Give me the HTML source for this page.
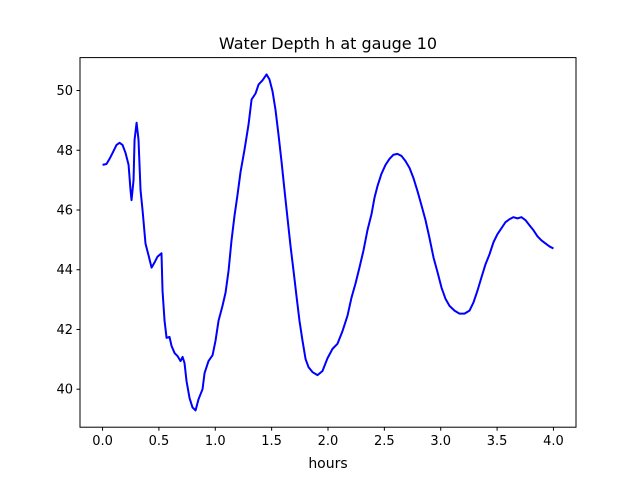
<!DOCTYPE html>
<html><head><meta charset="utf-8"><style>
html,body{margin:0;padding:0;background:#fff;}
svg text{font-family:"DejaVu Sans","Liberation Sans",sans-serif;}
</style></head><body>
<svg id="chart" width="640" height="480" xmlns="http://www.w3.org/2000/svg">
<rect width="640" height="480" fill="#fff"/>
<text x="328" y="49" font-size="16" text-anchor="middle" fill="#000">Water Depth h at gauge 10</text>
<g id="xticks"></g>
<g id="yticks"></g>
<path id="line" fill="none" stroke="#0000ff" stroke-width="2" stroke-linejoin="round"/>
<rect x="80" y="57.6" width="496" height="369.6" fill="none" stroke="#000" stroke-width="1"/>
<text x="328" y="468" font-size="14" text-anchor="middle">hours</text>
</svg>
<script>
const hours=[0,.035,.062,.089,.124,.151,.177,.204,.231,.248,.257,.275,.284,.302,.319,.337,.355,.381,.408,.435,.461,.488,.523,.532,.550,.568,.594,.612,.639,.665,.692,.710,.727,.745,.772,.798,.825,.851,.887,.905,.940,.976,1.002,1.029,1.064,1.091,1.118,1.144,1.171,1.197,1.224,1.259,1.295,1.322,1.357,1.384,1.419,1.455,1.481,1.508,1.534,1.561,1.588,1.614,1.641,1.667,1.694,1.721,1.747,1.774,1.801,1.827,1.863,1.907,1.951,1.996,2.040,2.084,2.129,2.173,2.208,2.244,2.279,2.315,2.350,2.386,2.412,2.439,2.474,2.510,2.545,2.581,2.616,2.652,2.687,2.723,2.758,2.794,2.829,2.865,2.901,2.936,2.972,3.007,3.042,3.078,3.122,3.166,3.211,3.255,3.290,3.326,3.361,3.397,3.432,3.468,3.503,3.539,3.574,3.610,3.645,3.681,3.716,3.752,3.787,3.823,3.858,3.894,3.929,3.965,4.0];
const depth=[47.51,47.54,47.71,47.91,48.18,48.25,48.18,47.91,47.51,46.67,46.33,47.00,48.35,48.92,48.35,46.67,45.99,44.88,44.48,44.07,44.24,44.44,44.55,43.30,42.29,41.72,41.75,41.45,41.21,41.11,40.94,41.08,40.88,40.27,39.70,39.39,39.29,39.66,40.00,40.54,40.94,41.14,41.62,42.29,42.79,43.23,43.97,44.98,45.82,46.50,47.27,48.01,48.86,49.70,49.90,50.20,50.34,50.54,50.37,49.97,49.36,48.52,47.61,46.67,45.72,44.81,43.97,43.10,42.29,41.62,41.01,40.74,40.57,40.47,40.61,41.04,41.35,41.52,41.95,42.46,43.06,43.54,44.07,44.65,45.32,45.86,46.40,46.80,47.21,47.51,47.71,47.85,47.88,47.81,47.64,47.41,47.07,46.63,46.16,45.66,45.05,44.41,43.91,43.40,43.03,42.79,42.63,42.53,42.53,42.63,42.90,43.30,43.74,44.18,44.51,44.92,45.19,45.39,45.59,45.69,45.76,45.72,45.76,45.66,45.49,45.32,45.12,44.98,44.88,44.78,44.71];
const xTickValues=[0,0.5,1,1.5,2,2.5,3,3.5,4];
const xTickLabels=["0.0","0.5","1.0","1.5","2.0","2.5","3.0","3.5","4.0"];
const yTickValues=[40,42,44,46,48,50];
const yTickLabels=["40","42","44","46","48","50"];
const L=80,R=576,T=57.6,B=427.2;
const xMin=-0.2,xMax=4.2;
const dMin=Math.min(...depth),dMax=Math.max(...depth),pad=(dMax-dMin)*0.05;
const yMin=dMin-pad,yMax=dMax+pad;
const sx=v=>L+(v-xMin)/(xMax-xMin)*(R-L);
const sy=v=>B-(v-yMin)/(yMax-yMin)*(B-T);
const NS="http://www.w3.org/2000/svg";
const xg=document.getElementById('xticks'),yg=document.getElementById('yticks');
xTickValues.forEach((v,i)=>{
 const x=sx(v);
 const l=document.createElementNS(NS,'line');
 
 
 l.setAttribute('x1',x);l.setAttribute('x2',x);l.setAttribute('y1',B);l.setAttribute('y2',B+3.5);l.setAttribute('stroke','#000');
 xg.appendChild(l);
 const t=document.createElementNS(NS,'text');
 
 
 t.setAttribute('x',x);t.setAttribute('y',B+18);t.setAttribute('font-size','13');t.setAttribute('text-anchor','middle');
 t.textContent=xTickLabels[i];xg.appendChild(t);
});
yTickValues.forEach((v,i)=>{
 const y=sy(v);
 const l=document.createElementNS(NS,'line');
 
 
 l.setAttribute('x1',L-3.5);l.setAttribute('x2',L);l.setAttribute('y1',y);l.setAttribute('y2',y);l.setAttribute('stroke','#000');
 yg.appendChild(l);
 const t=document.createElementNS(NS,'text');
 
 
 t.setAttribute('x',L-7);t.setAttribute('y',y+4.5);t.setAttribute('font-size','13');t.setAttribute('text-anchor','end');
 t.textContent=yTickLabels[i];yg.appendChild(t);
});
document.getElementById('line').setAttribute('d',hours.map((h,i)=>(i?'L':'M')+sx(h).toFixed(2)+','+sy(depth[i]).toFixed(2)).join(''));
</script>
</body></html>
